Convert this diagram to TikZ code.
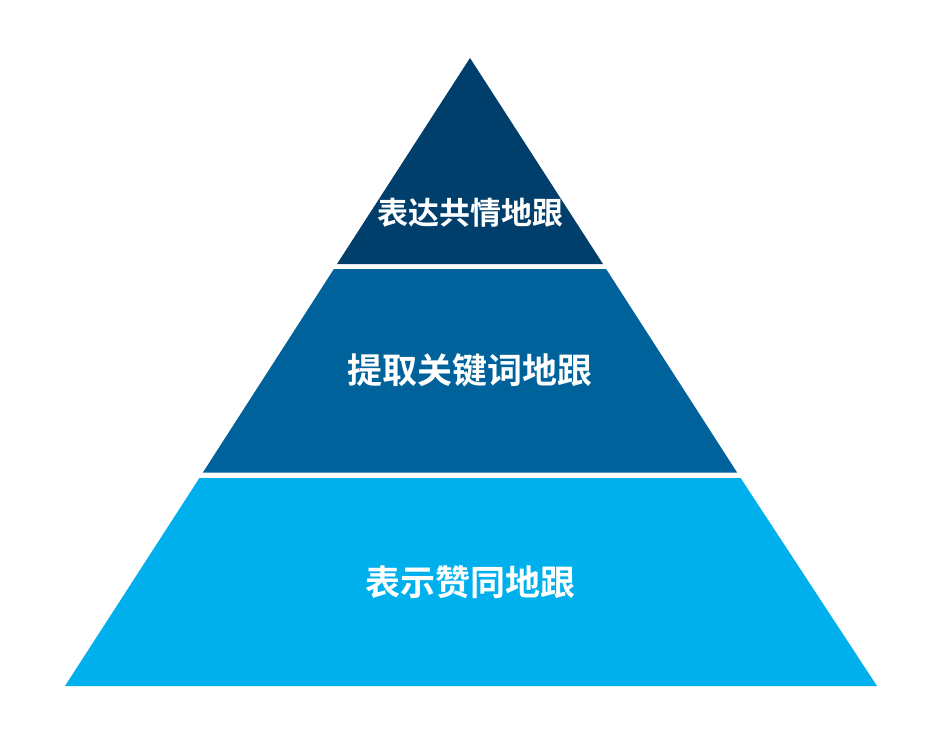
\documentclass[tikz,border=0pt]{standalone}
\usepackage{fontspec}
\newfontfamily\cjk{Noto Sans CJK SC Bold}
\definecolor{topc}{RGB}{0,62,107}
\definecolor{midc}{RGB}{0,98,155}
\definecolor{botc}{RGB}{0,176,236}
\begin{document}
\begin{tikzpicture}[x=1pt,y=-1pt,
  lbl/.style={text=white,font=\cjk\fontsize{35}{35}\selectfont,inner sep=0pt}]
\useasboundingbox[fill=white] (0,0) rectangle (942,736);
% apex (470,58), base 65..877 at y=686; slope 0.6449 px/px
\fill[topc] (470,58) -- (603,264) -- (337,264) -- cycle;
\fill[midc] (333.9,269) -- (606.1,269) -- (737.1,472.5) -- (202.9,472.5) -- cycle;
\fill[botc] (199.4,478) -- (740.6,478) -- (877,686) -- (65,686) -- cycle;
\node[lbl,font=\cjk\fontsize{31}{31}\selectfont] (t) at (470,213) {表达共情地跟};
\node[lbl] (m) at (470,370) {提取关键词地跟};
\node[lbl] (b) at (470,582) {表示赞同地跟};
\end{tikzpicture}
\end{document}
